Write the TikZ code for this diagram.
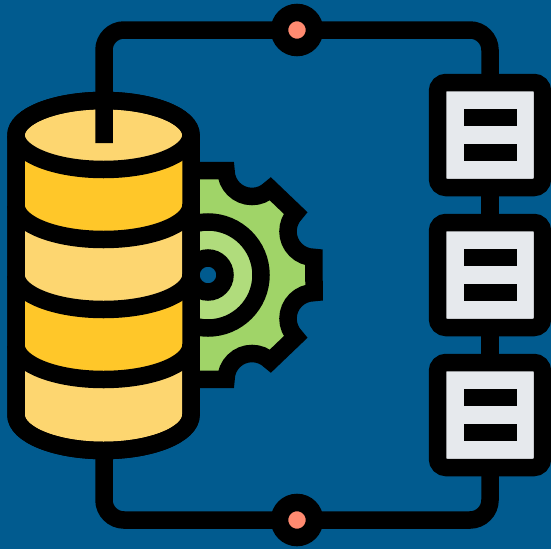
\documentclass[tikz,border=0pt]{standalone}
\definecolor{bg}{HTML}{015B8F}
\definecolor{lightyel}{HTML}{FDD670}
\definecolor{deepyel}{HTML}{FFC729}
\definecolor{gearg}{HTML}{A0D468}
\definecolor{ringg}{HTML}{B0DC7C}
\definecolor{paper}{HTML}{E6E9ED}
\definecolor{salmon}{HTML}{FF8A70}
\tikzset{
  ink/.style={draw=black,line width=17.5pt,line join=miter},
  pipe/.style={ink,rounded corners=20pt},
  docbox/.style={draw=black,fill=paper,line width=17.5pt,rounded corners=8.7pt,minimum size=105pt,inner sep=0pt,outer sep=0pt,rectangle},
  bar/.style={fill=black,draw=none,minimum width=53pt,minimum height=17.5pt,inner sep=0pt,outer sep=0pt},
  valve/.style={circle,draw=black,fill=salmon,line width=17.5pt,minimum size=35pt,inner sep=0pt,outer sep=0pt},
}
\begin{document}
\begin{tikzpicture}[x=1pt,y=-1pt]
\useasboundingbox (0,0) rectangle (551,549);
\fill[bg] (0,0) rectangle (551,549);
% gear
\draw[ink,fill=gearg] (170,170.5) -- (226,170.5) arc[start angle=180,end angle=45,radius=26]
  -- (295.6,213) arc[start angle=225,end angle=90,radius=26]
  -- (314,292.6) arc[start angle=-90,end angle=-225,radius=26]
  -- (270.4,361.1) arc[start angle=-45,end angle=-180,radius=26]
  -- (170,379.5) -- cycle;
\draw[ink,fill=ringg] (208,275) circle[radius=53];
\draw[ink,fill=bg] (208,275) circle[radius=17];
% pipes
\coordinate (cyltop) at (104,143);
\coordinate (cylbot) at (104,450);
\node[docbox] (box1) at (490,135) {};
\node[docbox] (box2) at (490,275) {};
\node[docbox] (box3) at (490,415) {};
\node[bar] (b1a) at (490,117.5) {};
\node[bar] (b1b) at (490,152.5) {};
\node[bar] (b2a) at (490,257.5) {};
\node[bar] (b2b) at (490,292.5) {};
\node[bar] (b3a) at (490,397.5) {};
\node[bar] (b3b) at (490,432.5) {};
\draw[ink] (box1) -- (box2);
\draw[ink] (box2) -- (box3);
% cylinder
\draw[ink,fill=lightyel] (16,135) -- (16,415) arc[start angle=180,end angle=0,x radius=87.5,y radius=35.5]
  -- (191,135) arc[start angle=0,end angle=-180,x radius=87.5,y radius=34.5] -- cycle;
\fill[deepyel] (16,135) arc[start angle=180,end angle=0,x radius=87.5,y radius=34.5]
  -- (191,205) arc[start angle=0,end angle=180,x radius=87.5,y radius=34.5] -- cycle;
\fill[deepyel] (16,275) arc[start angle=180,end angle=0,x radius=87.5,y radius=35]
  -- (191,345) arc[start angle=0,end angle=180,x radius=87.5,y radius=35] -- cycle;
\foreach \yy in {135,205,275,345}
  \draw[ink] (16,\yy) arc[start angle=180,end angle=0,x radius=87.5,y radius=34.5];
\draw[ink] (16,135) -- (16,415) arc[start angle=180,end angle=0,x radius=87.5,y radius=35.5]
  -- (191,135) arc[start angle=0,end angle=-180,x radius=87.5,y radius=34.5] -- cycle;
% valves and connectors
\node[valve] (valvetop) at (297,30) {};
\node[valve] (valvebot) at (297,520) {};
\draw[pipe] (cyltop) |- (valvetop);
\draw[pipe] (valvetop) -| (box1);
\draw[pipe] (cylbot) |- (valvebot);
\draw[pipe] (valvebot) -| (box3);
\end{tikzpicture}
\end{document}
